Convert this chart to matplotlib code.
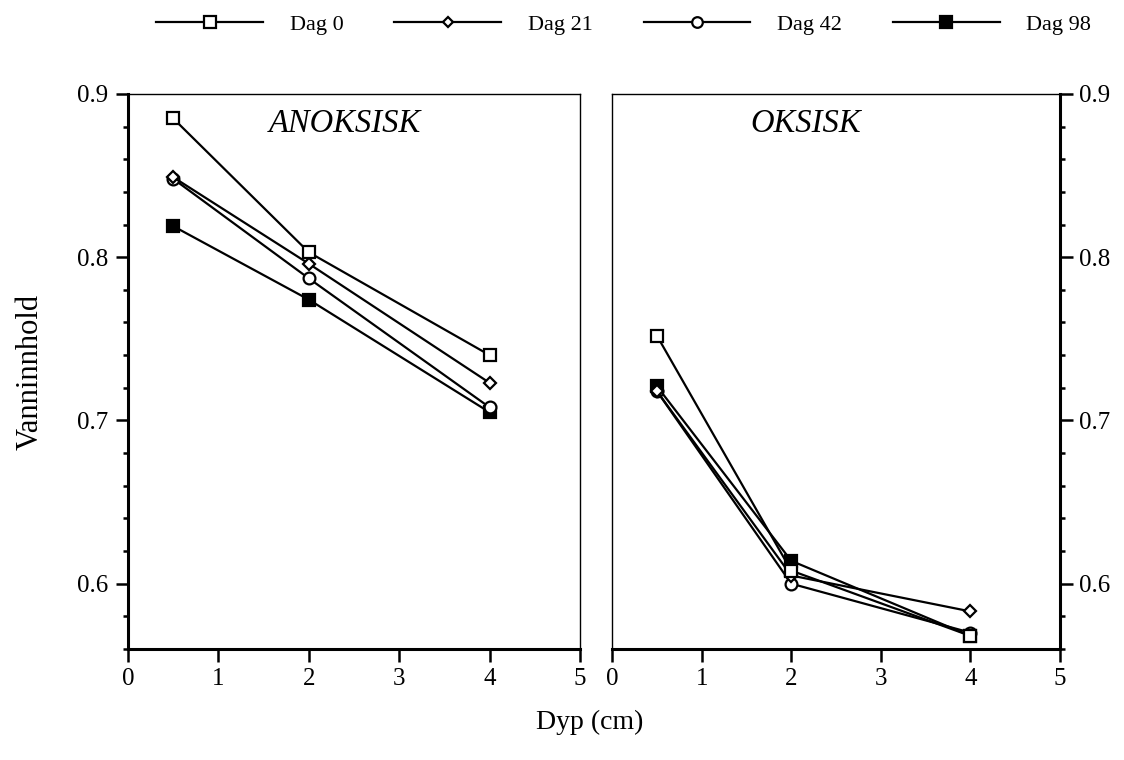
"""Vanninnhold vs dyp, anoksisk og oksisk sediment."""

import matplotlib
matplotlib.use("Agg")
from matplotlib import pyplot as plt
from matplotlib.ticker import MultipleLocator

plt.rcParams['font.family'] = ['Liberation Serif', 'DejaVu Serif']

# data
depth_cm = [0.5, 2, 4]
labels = ["Dag 0", "Dag 21", "Dag 42", "Dag 98"]

anoksisk_dag0 = [0.885, 0.803, 0.740]
anoksisk_dag21 = [0.849, 0.796, 0.723]
anoksisk_dag42 = [0.848, 0.787, 0.708]
anoksisk_dag98 = [0.819, 0.774, 0.705]

oksisk_dag0 = [0.752, 0.608, 0.568]
oksisk_dag21 = [0.718, 0.605, 0.583]
oksisk_dag42 = [0.718, 0.600, 0.570]
oksisk_dag98 = [0.721, 0.614, 0.568]

# marker style per series: (marker, facecolor, size)
styles = [("s", "white", 9), ("D", "white", 6), ("o", "white", 8.5), ("s", "black", 9)]

fig = plt.figure(figsize=(11.24, 7.6), dpi=100)
ax_l = fig.add_axes([0.1139, 0.1461, 0.4021, 0.7303])
ax_r = fig.add_axes([0.5445, 0.1461, 0.3986, 0.7303])

panels = [(ax_l, [anoksisk_dag0, anoksisk_dag21, anoksisk_dag42, anoksisk_dag98], "ANOKSISK", 0.48),
          (ax_r, [oksisk_dag0, oksisk_dag21, oksisk_dag42, oksisk_dag98], "OKSISK", 0.433)]

handles = []
for ax, series, title, tx in panels:
    # draw Dag 98 first so the open markers sit on top
    for i in [3, 2, 1, 0]:
        m, fc, ms = styles[i]
        line, = ax.plot(depth_cm, series[i], color="black", lw=1.6, marker=m, ms=ms,
                        mfc=fc, mec="black", mew=1.6, label=labels[i], zorder=3 + (3 - i))
        if ax is ax_l:
            handles.append(line)
    ax.set_xlim(0, 5)
    ax.set_ylim(0.56, 0.9)
    ax.xaxis.set_major_locator(MultipleLocator(1))
    ax.yaxis.set_major_locator(MultipleLocator(0.1))
    ax.yaxis.set_minor_locator(MultipleLocator(0.02))
    ax.text(tx, 0.947, title, transform=ax.transAxes, ha="center", va="center",
            fontsize=23.5, style="italic")
    ax.tick_params(axis="both", which="major", direction="out", length=9, width=1.8,
                   labelsize=18, pad=5)
    ax.tick_params(axis="y", which="minor", direction="out", length=3.5, width=1.8)
    ax.tick_params(axis="x", which="minor", bottom=False)
    for s in ax.spines.values():
        s.set_linewidth(1.0)
    ax.spines["bottom"].set_linewidth(2.2)

ax_l.spines["left"].set_linewidth(2.2)
ax_r.spines["right"].set_linewidth(2.2)
ax_r.yaxis.tick_right()
ax_r.tick_params(axis="y", which="both", left=False, right=True)
for ax in (ax_l, ax_r):
    ax.set_yticks([0.6, 0.7, 0.8, 0.9])
    ax.set_yticklabels(["0.6", "0.7", "0.8", "0.9"])

fig.text(0.027, 0.51, "Vanninnhold", ha="center", va="center", rotation=90, fontsize=22)
fig.text(0.525, 0.05, "Dyp (cm)", ha="center", va="center", fontsize=20)

handles = handles[::-1]
fig.legend(handles, labels, loc="center", bbox_to_anchor=(0.555, 0.968), ncol=4, frameon=False,
           fontsize=16, handlelength=4.8, handletextpad=1.2, columnspacing=2.3, markerscale=0.9)

fig.savefig("out.png", dpi=100)
